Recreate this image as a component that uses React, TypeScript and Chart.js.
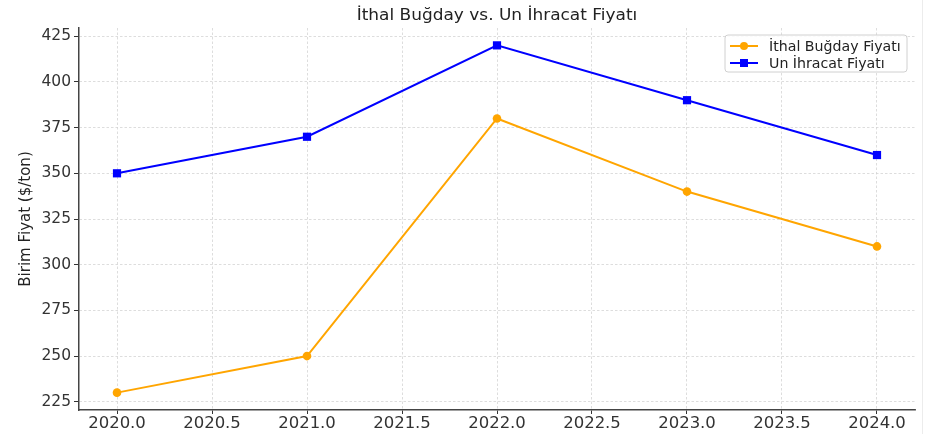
import React, { useEffect, useRef } from "react";
import { Chart, registerables } from "chart.js";

Chart.register(...registerables);

const years = [2020, 2021, 2022, 2023, 2024];
const bugdayFiyati = [230, 250, 380, 340, 310];
const unIhracatFiyati = [350, 370, 420, 390, 360];
const xTicks = [2020, 2020.5, 2021, 2021.5, 2022, 2022.5, 2023, 2023.5, 2024];
const yTicks = [225, 250, 275, 300, 325, 350, 375, 400, 425];
const titleText = "İthal Buğday vs. Un İhracat Fiyatı";
const yAxisLabel = "Birim Fiyat ($/ton)";
const seriesNames = ["İthal Buğday Fiyatı", "Un İhracat Fiyatı"];
const seriesColors = ["#FFA500", "#0000FF"];

const FONT = "'DejaVu Sans', sans-serif";

const decorPlugin = {
  id: "decor",
  afterDraw(chart: any) {
    const { ctx, chartArea } = chart;
    ctx.save();
    // faint right border line
    ctx.strokeStyle = "#ececec";
    ctx.lineWidth = 1;
    ctx.beginPath();
    ctx.moveTo(922.5, 0);
    ctx.lineTo(922.5, 434);
    ctx.stroke();
    // title (slightly widened)
    ctx.fillStyle = "#222";
    ctx.font = `15px ${FONT}`;
    ctx.textAlign = "center";
    ctx.textBaseline = "middle";
    ctx.save();
    ctx.translate((chartArea.left + chartArea.right) / 2, 16);
    ctx.scale(1.13, 1);
    ctx.fillText(titleText, 0, 0);
    ctx.restore();
    // y label
    ctx.save();
    ctx.translate(26, (chartArea.top + chartArea.bottom) / 2);
    ctx.rotate(-Math.PI / 2);
    ctx.font = `15px ${FONT}`;
    ctx.fillText(yAxisLabel, 0, 0);
    ctx.restore();
    // legend
    const bx = 725, by = 35, bw = 182, bh = 37;
    ctx.beginPath();
    const r = 3;
    ctx.moveTo(bx + r, by);
    ctx.lineTo(bx + bw - r, by);
    ctx.quadraticCurveTo(bx + bw, by, bx + bw, by + r);
    ctx.lineTo(bx + bw, by + bh - r);
    ctx.quadraticCurveTo(bx + bw, by + bh, bx + bw - r, by + bh);
    ctx.lineTo(bx + r, by + bh);
    ctx.quadraticCurveTo(bx, by + bh, bx, by + bh - r);
    ctx.lineTo(bx, by + r);
    ctx.quadraticCurveTo(bx, by, bx + r, by);
    ctx.closePath();
    ctx.fillStyle = "rgba(255,255,255,0.85)";
    ctx.fill();
    ctx.strokeStyle = "#d0d0d0";
    ctx.lineWidth = 1;
    ctx.stroke();
    ctx.font = `13.5px ${FONT}`;
    ctx.textAlign = "left";
    seriesNames.forEach((name, i) => {
      const y = by + 11 + i * 17;
      ctx.strokeStyle = seriesColors[i];
      ctx.lineWidth = 2;
      ctx.beginPath();
      ctx.moveTo(730, y);
      ctx.lineTo(758, y);
      ctx.stroke();
      ctx.fillStyle = seriesColors[i];
      if (i === 0) {
        ctx.beginPath();
        ctx.arc(744, y, 4, 0, Math.PI * 2);
        ctx.fill();
      } else {
        ctx.fillRect(740, y - 4, 8, 8);
      }
      ctx.fillStyle = "#222";
      ctx.save();
      ctx.translate(769, y + 1);
      ctx.scale(1.05, 1);
      ctx.fillText(name, 0, 0);
      ctx.restore();
    });
    ctx.restore();
  },
};

export default function App() {
  const ref = useRef<HTMLCanvasElement>(null);
  useEffect(() => {
    if (!ref.current) return;
    const gridCommon = {
      color: "#d4d4d4",
      lineWidth: 0.8,
      tickColor: "#333",
      tickLength: 5,
      tickWidth: 1,
    };
    const chart = new Chart(ref.current, {
      type: "line",
      data: {
        datasets: [
          {
            label: seriesNames[0],
            data: years.map((y, i) => ({ x: y, y: bugdayFiyati[i] })),
            borderColor: seriesColors[0],
            backgroundColor: seriesColors[0],
            borderWidth: 2,
            pointStyle: "circle",
            pointRadius: 4.3,
            pointBorderWidth: 0,
            tension: 0,
          },
          {
            label: seriesNames[1],
            data: years.map((y, i) => ({ x: y, y: unIhracatFiyati[i] })),
            borderColor: seriesColors[1],
            backgroundColor: seriesColors[1],
            borderWidth: 2,
            pointStyle: "rect",
            pointRadius: 5.8,
            pointBorderWidth: 0,
            tension: 0,
          },
        ],
      },
      options: {
        animation: false,
        responsive: false,
        maintainAspectRatio: false,
        layout: { padding: { left: 0, top: 28, right: 15, bottom: 0 } },
        plugins: {
          legend: { display: false },
          title: { display: false },
          tooltip: { enabled: false },
        },
        scales: {
          x: {
            type: "linear",
            min: 2019.8,
            max: 2024.2,
            afterBuildTicks: (s: any) => {
              s.ticks = xTicks.map((v) => ({ value: v }));
            },
            afterFit: (s: any) => {
              s.height = 24;
            },
            ticks: {
              autoSkip: false,
              maxRotation: 0,
              padding: 0,
              color: "#333",
              font: { family: FONT, size: 16.5 },
              callback: (v: any) => Number(v).toFixed(1),
            },
            grid: { ...gridCommon, tickLength: 4 },
            border: { display: true, color: "#444", width: 1.5, dash: [2.5, 2] },
          },
          y: {
            type: "linear",
            min: 220.5,
            max: 429.5,
            afterBuildTicks: (s: any) => {
              s.ticks = yTicks.map((v) => ({ value: v }));
            },
            afterFit: (s: any) => {
              s.width = 79;
            },
            ticks: {
              autoSkip: false,
              padding: 3,
              color: "#333",
              font: { family: FONT, size: 15.5 },
              callback: (v: any) => String(v),
            },
            grid: gridCommon,
            border: { display: true, color: "#444", width: 1.5, dash: [2.5, 2] },
          },
        },
      },
      plugins: [decorPlugin],
    } as any);
    return () => chart.destroy();
  }, []);
  return (
    <div style={{ position: "fixed", left: 0, top: 0, width: 930, height: 434, background: "#fff" }}>
      <canvas ref={ref} width={930} height={434} style={{ width: 930, height: 434 }} />
    </div>
  );
}
